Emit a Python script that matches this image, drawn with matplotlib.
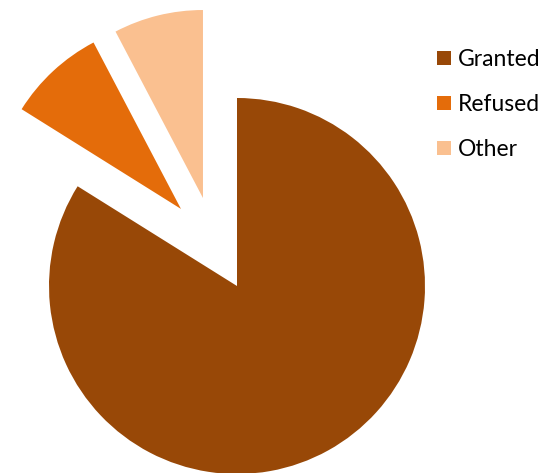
import numpy as np
from matplotlib import pyplot as plt
from matplotlib.patches import Patch

# Slice values (percent)
labels = ['Granted', 'Refused', 'Other']
values = [83.9, 8.4, 7.7]
colors = ['#984807', '#E46C0A', '#FAC090']

# where the exploded slices sit (in pie radii)
offsets = [(0.0, 0.0), (-0.298, 0.410), (-0.181, 0.468)]

plt.rcParams['font.family'] = ['Lato', 'DejaVu Sans']

fig = plt.figure(figsize=(5.5, 4.73), dpi=100)
ax = fig.add_axes([0, 0, 1, 1])

wedges, _ = ax.pie(values, colors=colors, startangle=90, counterclock=False,
                   radius=1.0, wedgeprops=dict(linewidth=0))

# move the small slices out
for w, (dx, dy) in zip(wedges, offsets):
    w.set_center((dx, dy))

ax.set_aspect('auto')
ax.set_xlim(-237 / 188, (550 - 237) / 188)
ax.set_ylim((286 - 473) / 188, 286 / 188)
ax.axis('off')

handles = [Patch(facecolor=c, edgecolor='none', label=l) for l, c in zip(labels, colors)]
fig.legend(handles=handles, loc='upper left', bbox_to_anchor=(437 / 550, 1 - 49 / 473),
           frameon=False, fontsize=16.5, handlelength=0.6, handleheight=0.6,
           handletextpad=0.3, labelspacing=1.05, borderpad=0, borderaxespad=0)

fig.savefig('out.png')
